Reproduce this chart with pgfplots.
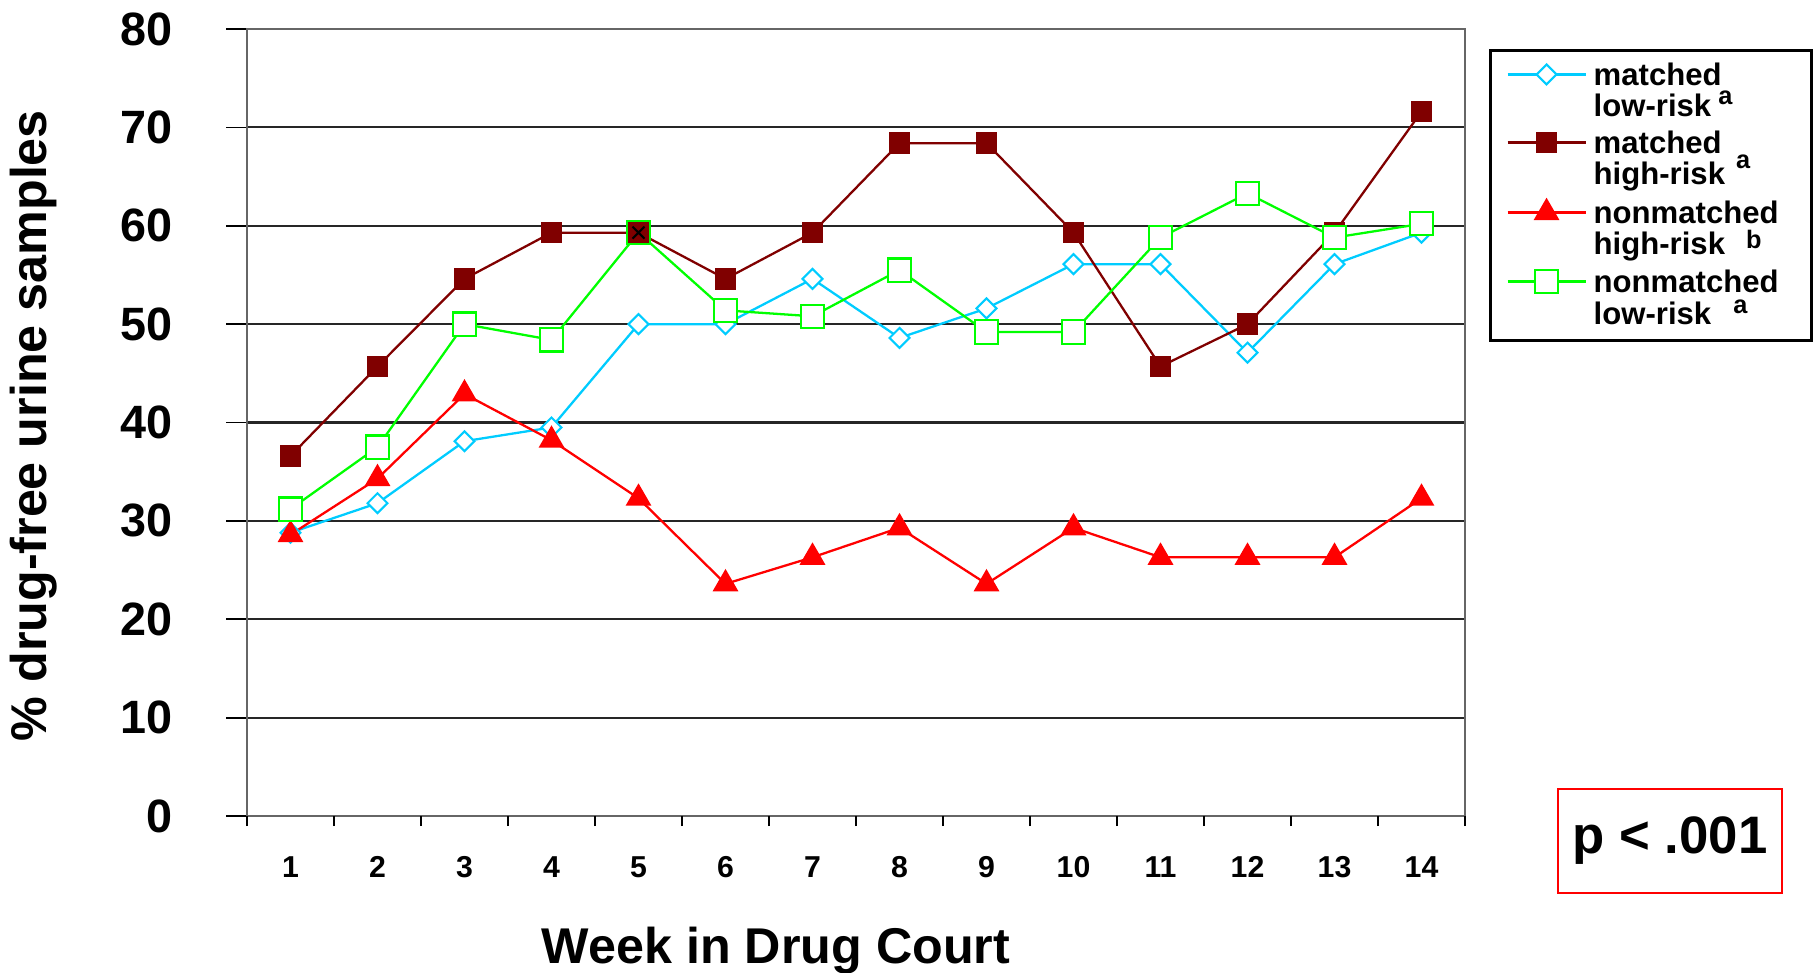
\documentclass[border=0pt]{standalone}
\usepackage{fontspec}
\setmainfont{Liberation Sans}
\usepackage{pgfplots}
\pgfplotsset{compat=1.18}

\definecolor{cyanL}{RGB}{0,204,255}
\definecolor{maroonL}{RGB}{128,0,0}
\definecolor{redL}{RGB}{255,0,0}
\definecolor{greenL}{RGB}{0,255,0}

% superscript note after a legend line: gap, raise, letter
\newcommand{\note}[3]{\hspace*{#1}\raisebox{#2}{\fontsize{7.2}{8}\selectfont #3}}
% legend rows: first and second line of each entry
\tikzset{
  lgA/.style={text height=6.2pt, text depth=0pt, inner ysep=0pt},
  lgB/.style={text height=6.2pt, text depth=1.8pt, inner ysep=0pt},
}

\begin{document}
\begin{tikzpicture}
\useasboundingbox (0,0) rectangle (18.16,9.72);
\begin{axis}[
  at={(2.47cm,1.56cm)}, anchor=south west,
  scale only axis, width=12.18cm, height=7.87cm,
  xmin=0.5, xmax=14.5, ymin=0, ymax=80,
  ytick={0,10,...,80},
  xtick={1,...,14},
  xtick style={draw=none},
  extra x ticks={0.5,1.5,...,14.5},
  extra x tick labels={},
  extra x tick style={xtick style={draw=black, line width=0.5pt}, major tick length=0.1cm, grid=none},
  tick align=outside,
  xtick pos=bottom, ytick pos=left,
  major tick length=0.21cm,
  ytick style={black, line width=0.5pt},
  ymajorgrids,
  major grid style={black!85, line width=0.6pt},
  axis line style={black!60, line width=0.6pt},
  /pgf/number format/assume math mode=true,
  yticklabel style={font=\bfseries\fontsize{13.3}{15}\selectfont, anchor=east, inner sep=0pt, xshift=-0.53cm},
  xticklabel style={font=\bfseries\fontsize{8.6}{10}\selectfont, anchor=center, inner sep=0pt, yshift=-0.3cm},
  xlabel={Week in Drug Court},
  xlabel style={font=\bfseries\fontsize{14.3}{16}\selectfont, at={(axis description cs:0.4343,0)}, anchor=base, inner sep=0pt, yshift=-1.47cm},
  ylabel={\% drug-free urine samples},
  ylabel style={font=\bfseries\fontsize{14.3}{16}\selectfont, at={(axis description cs:-0.155,0.496)}, anchor=south, inner sep=0pt},
  legend style={at={(1.0197,0.9746)}, anchor=north west, draw=black, line width=0.9pt,
    font=\bfseries\fontsize{8.85}{8.8}\selectfont, inner xsep=4.5pt, inner ysep=3.7pt,
    row sep=2.6pt, column sep=0pt,
    cells={anchor=base west, text width=1.95cm, inner xsep=2.3pt}},
  legend image code/.code={
    \draw[mark repeat=2, mark phase=2, #1] plot coordinates {(0cm,0.11cm) (0.39cm,0.11cm) (0.78cm,0.11cm)};
  },
]
\addplot[cyanL, line width=0.65pt, mark=square*, mark size=2pt,
  mark options={rotate=45, fill=white, line width=0.6pt}]
  coordinates {(1,28.8) (2,31.8) (3,38.1) (4,39.5) (5,50.0) (6,50.0) (7,54.6)
               (8,48.6) (9,51.6) (10,56.1) (11,56.1) (12,47.1) (13,56.1) (14,59.3)};
\addlegendentry[lgA]{matched}
\addlegendimage{empty legend}
\addlegendentry[lgB]{low-risk\note{0.07cm}{3.4pt}{a}}
\addplot[maroonL, line width=0.65pt, mark=square*, mark size=2.75pt,
  mark options={fill=maroonL}]
  coordinates {(1,36.6) (2,45.7) (3,54.6) (4,59.3) (5,59.3) (6,54.6) (7,59.3)
               (8,68.4) (9,68.4) (10,59.3) (11,45.7) (12,50.0) (13,59.3) (14,71.6)};
\addlegendentry[lgA]{matched}
\addlegendimage{empty legend}
\addlegendentry[lgB]{high-risk\note{0.11cm}{4.5pt}{a}}
\addplot[redL, line width=0.65pt, mark=triangle*, mark size=3.6pt,
  mark options={fill=redL}]
  coordinates {(1,28.6) (2,34.3) (3,42.9) (4,38.2) (5,32.3) (6,23.6) (7,26.3)
               (8,29.3) (9,23.6) (10,29.3) (11,26.3) (12,26.3) (13,26.3) (14,32.3)};
\addlegendentry[lgA]{nonmatched}
\addlegendimage{empty legend}
\addlegendentry[lgB]{high-risk\note{0.21cm}{1.7pt}{b}}
\addplot[greenL, line width=0.65pt, mark=square*, mark size=3.3pt,
  mark options={fill=white, line width=0.6pt}]
  coordinates {(1,31.2) (2,37.5) (3,50.0) (4,48.4) (5,59.3) (6,51.4) (7,50.8)
               (8,55.5) (9,49.2) (10,49.2) (11,58.8) (12,63.3) (13,58.8) (14,60.2)};
\addlegendentry[lgA]{nonmatched}
\addlegendimage{empty legend}
\addlegendentry[lgA, text depth=1pt]{low-risk\note{0.22cm}{3.1pt}{a}}
% week 5: overlapping markers as in the original
\addplot[only marks, mark=square*, mark size=3.3pt,
  mark options={draw=greenL, fill=maroonL, line width=0.6pt}, forget plot]
  coordinates {(5,59.3)};
\addplot[only marks, mark=x, mark size=2.4pt, black, line width=0.6pt, forget plot]
  coordinates {(5,59.3)};
\end{axis}
\node[draw=redL, line width=0.5pt, minimum width=2.24cm, minimum height=1.04cm,
  font=\bfseries\fontsize{15}{18}\selectfont] at (16.70,1.31) {p < .001};
\end{tikzpicture}
\end{document}
